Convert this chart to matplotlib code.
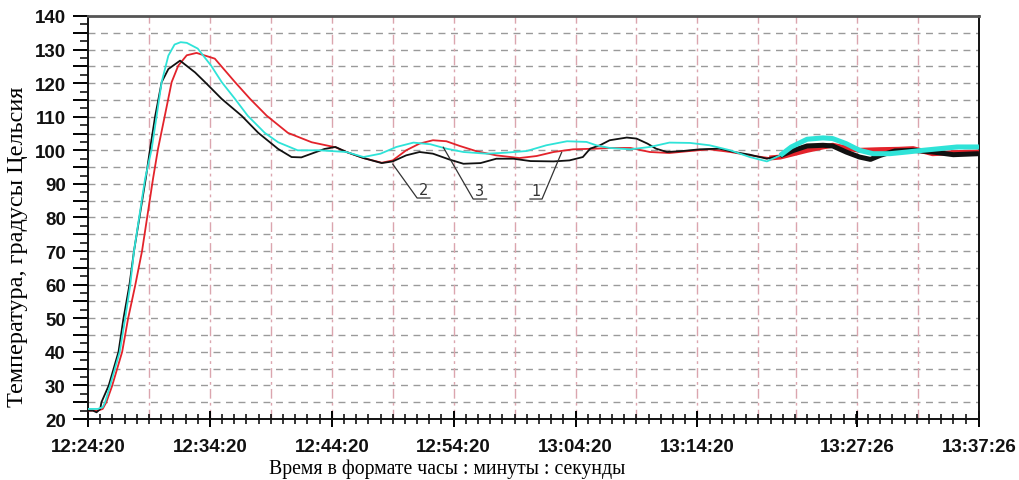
import numpy as np
import matplotlib
matplotlib.use("Agg")
import matplotlib.pyplot as plt
from matplotlib.ticker import FixedLocator, MultipleLocator, FuncFormatter

START = "12:24:20"


def minutes(hms):
    h, m, s = (int(v) for v in hms.split(":"))
    h0, m0, s0 = (int(v) for v in START.split(":"))
    return (h * 3600 + m * 60 + s - (h0 * 3600 + m0 * 60 + s0)) / 60.0


# time axis labels and vertical grid marks
tick_times = ["12:24:20", "12:34:20", "12:44:20", "12:54:20",
              "13:04:20", "13:14:20", "13:27:26", "13:37:26"]
vgrid_times = ["12:29:20", "12:34:20", "12:39:20", "12:44:20", "12:49:20",
               "12:54:20", "12:59:20", "13:04:20", "13:09:20", "13:14:20",
               "13:19:20", "13:22:26", "13:27:26", "13:32:26"]

# curve 1 (black): minutes from start, temperature
t_black = [0, 0.4, 0.7, 1.0, 1.1, 1.7, 2.5, 2.9, 3.4, 3.77, 4.73, 5.09, 5.5,
           6.04, 6.59, 7.55, 8.78, 9.6, 10.97, 12.6, 13.97, 15.6, 16.7, 17.5,
           19.4, 20.3, 21.2, 22.6, 24.1, 25.0, 26.1, 27.2, 28.3, 29.7, 30.8,
           32.2, 33.5, 34.9, 36.3, 38.2, 39.5, 40.6, 41.2, 42.0, 42.8, 44.2,
           45.0, 45.9, 46.6, 47.5, 48.8, 50.2, 51.8, 53.0, 54.3, 55.7, 56.8,
           57.9, 59.0, 60.3, 61.1, 62.2, 63.3, 64.2, 65.0, 66.2, 67.7, 69.3,
           71.0, 73.1]
T_black = [22.5, 22.5, 22, 23, 25, 30, 40, 49.8, 60, 70, 91.5, 100.4, 110,
           120.3, 124.2, 126.7, 123.2, 120.3, 115.3, 110.3, 105.2, 100.4, 98,
           97.9, 100.4, 101, 99.5, 97.7, 96.2, 96.7, 98.5, 99.5, 99, 97.2, 96,
           96.2, 97.5, 97.5, 96.8, 96.7, 97, 98, 100.5, 101.5, 103, 103.8,
           103.5, 102, 100.5, 99.5, 99.8, 100.3, 100.5, 99.5, 98.7, 97.5, 98.4,
           100, 101.3, 101.5, 101.3, 99.5, 98, 97.3, 98.5, 99.8, 100, 99.5,
           98.7, 99]

# curve 2 (red)
t_red = [0, 0.8, 1.2, 1.5, 1.97, 2.8, 3.28, 3.86, 4.43, 5.33, 5.74, 6.3,
         6.86, 7.4, 8.1, 8.9, 10.4, 12.06, 13.3, 14.66, 16.4, 18.35, 20.3,
         21.2, 22.6, 24.1, 25.0, 26.1, 27.2, 28.3, 29.4, 30.5, 31.9, 33.5,
         35.4, 36.8, 38.2, 39.8, 41.7, 42.8, 44.5, 46.1, 47.7, 49.4, 51.0,
         52.7, 54.3, 55.9, 56.8, 57.9, 59.0, 60.3, 61.1, 62.2, 63.3, 65.0,
         66.5, 67.7, 69.3, 71.0, 73.1]
T_red = [22.5, 22.5, 23, 25, 29.8, 40, 49.8, 59.6, 70, 91.5, 100.4, 110.3,
         120.3, 125.2, 128.3, 129, 127.3, 120.3, 115.3, 110.3, 105.2, 102.4,
         100.9, 99.5, 97.7, 96.3, 97, 100, 102, 103, 102.7, 101.3, 99.7, 98.5,
         97.7, 98.3, 99.5, 100.3, 100.5, 100.7, 100.7, 99.5, 99.2, 99.8,
         100.3, 99.5, 98.5, 97.7, 98, 99, 100, 101, 101.5, 100.7, 100, 100.2,
         100.3, 100.5, 99, 99.3, 99.5]

# curve 3 (cyan)
t_cyan = [0, 0.8, 1.2, 1.4, 1.8, 2.6, 3.04, 3.45, 3.77, 4.68, 5.22, 5.63,
          6.04, 6.59, 7.1, 7.6, 8.1, 9.0, 10.1, 10.97, 12.06, 13.1, 14.5,
          15.6, 17.2, 19.0, 21.2, 22.6, 24.0, 25.3, 26.7, 28.1, 29.4, 30.8,
          32.7, 34.3, 36.0, 37.6, 39.3, 40.9, 41.7, 42.8, 44.5, 46.1, 47.7,
          49.4, 51.0, 52.7, 54.3, 55.7, 56.8, 57.7, 59.0, 60.3, 61.1, 62.2,
          63.3, 64.4, 65.8, 67.2, 68.5, 69.9, 71.3, 73.1]
T_cyan = [23, 23, 23.5, 25, 29.8, 40, 49.8, 59.6, 70, 91.5, 100.4, 110.3,
          120.3, 128.2, 131.5, 132.2, 132, 130.3, 125.2, 120.3, 115.3, 110.3,
          105.2, 102.4, 100, 100, 99.5, 98, 99, 101, 102.3, 101.8, 100.5, 99.5,
          99, 99.3, 99.8, 101.5, 102.7, 102.5, 101.5, 100.7, 100.3, 101, 102.3,
          102.2, 101.5, 100, 98, 96.7, 98.5, 101, 103.3, 103.7, 103.5, 102,
          100, 99, 99, 99.5, 100, 100.5, 101, 101]

# curve labels: text, anchor on the curve, foot of the leader
labels = ["2", "3", "1"]
label_tip = [(25.0, 95.9), (29.15, 100.9), (38.86, 99.4)]
label_foot = [(27.0, 85.8), (31.6, 85.5), (37.25, 85.5)]
label_end = [28.05, 32.7, 36.26]

NOISY_FROM = 55.8

fig = plt.figure(figsize=(10.19, 4.81), dpi=100)
ax = fig.add_axes([0.0864, 0.1268, 0.8743, 0.8379])

series = [(t_red, T_red, "#e3232b"), (t_black, T_black, "#111111"),
          (t_cyan, T_cyan, "#2fe3d8")]
for t, T, col in series:
    t = np.asarray(t)
    T = np.asarray(T)
    ax.plot(t, T, color=col, lw=1.3, zorder=3)
    m = t >= NOISY_FROM
    ax.plot(t[m], T[m], color=col, lw=3.6, zorder=3, solid_capstyle="butt")

# grid
for v in np.arange(25, 140, 5):
    ax.axhline(v, color="#9a9a9a", lw=1.0, ls=(0, (5, 4)), zorder=1)
for s in vgrid_times:
    ax.axvline(minutes(s), color="#dba5ae", lw=1.0, ls=(0, (7, 3, 2, 3)), zorder=1)

# leaders with underlined numbers
for txt, tip, foot, end in zip(labels, label_tip, label_foot, label_end):
    ax.plot([tip[0], foot[0], end], [tip[1], foot[1], foot[1]],
            color="#333333", lw=0.9, zorder=4)
    ax.text((foot[0] + end) / 2, foot[1] + 0.4, txt, ha="center", va="bottom",
            fontsize=10.5, color="#333333", family="DejaVu Sans")

ax.set_xlim(0, minutes("13:37:26"))
ax.set_ylim(20, 140)

ax.xaxis.set_major_locator(FixedLocator([minutes(s) for s in tick_times]))
ax.xaxis.set_minor_locator(FixedLocator(np.arange(1, 73, 1)))
ax.set_xticklabels(tick_times)
ax.yaxis.set_major_locator(MultipleLocator(5))
ax.yaxis.set_minor_locator(MultipleLocator(2.5))
ax.yaxis.set_major_formatter(FuncFormatter(lambda v, p: f"{v:.0f}" if v % 10 == 0 else ""))

tickfont = dict(family="Liberation Sans", weight="bold", size=13.5)
for lab in ax.get_xticklabels() + ax.get_yticklabels():
    lab.set_fontproperties(matplotlib.font_manager.FontProperties(**tickfont))
    lab.set_color("#111111")

ax.tick_params(axis="x", which="major", direction="inout", length=12, width=1.4, pad=8)
ax.tick_params(axis="x", which="minor", direction="inout", length=7, width=1.1)
ax.tick_params(axis="y", which="major", direction="out", length=11, width=1.4, pad=5)
ax.tick_params(axis="y", which="minor", direction="out", length=6, width=1.1)

for side in ["left", "bottom", "right"]:
    ax.spines[side].set_color("#111111")
    ax.spines[side].set_linewidth(1.4)
ax.spines["top"].set_color("#555555")
ax.spines["top"].set_linewidth(2.0)

ax.set_xlabel("Время в формате часы : минуты : секунды",
              family="Liberation Serif", fontsize=14.2)
ax.xaxis.set_label_coords(0.403, -0.098)
ax.set_ylabel("Температура, градусы Цельсия",
              family="Liberation Serif", fontsize=17.5)
ax.yaxis.set_label_coords(-0.067, 0.43)

fig.savefig("out.png", dpi=100)
